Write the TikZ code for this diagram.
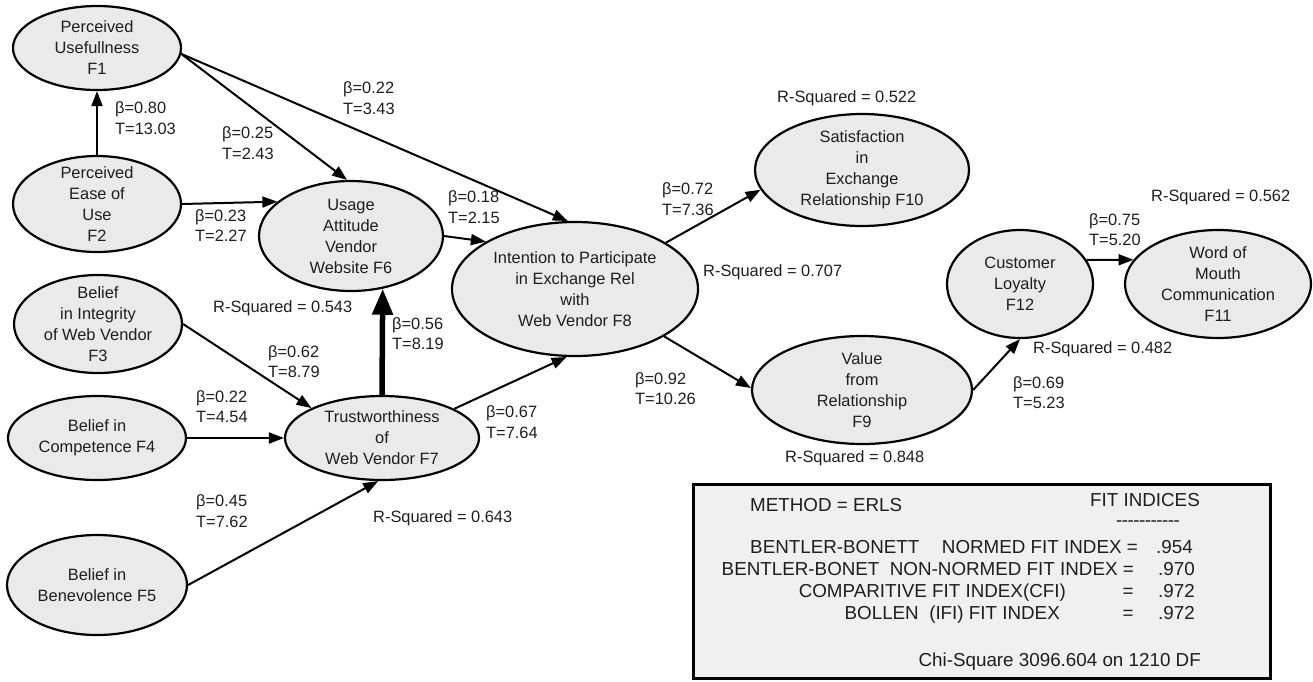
\documentclass[tikz,border=0pt]{standalone}
\usepackage{fontspec}
\setmainfont{Liberation Sans}
\usetikzlibrary{shapes.geometric,arrows.meta}
\definecolor{ellfill}{HTML}{EAEAEA}
\definecolor{boxfill}{HTML}{F0F0F0}
\definecolor{ink}{HTML}{1E1E1E}
\begin{document}
\begin{tikzpicture}[x=1pt,y=1pt,
  lat/.style={ellipse, draw=black, line width=2.2pt, fill=ellfill, align=center,
    inner xsep=-10pt, inner ysep=-30pt, font=\fontsize{16.4}{21}\selectfont, text=ink},
  conn/.style={line width=2pt, -{Triangle[length=15pt,width=11pt]}},
  thickconn/.style={line width=5.5pt, -{Triangle[length=26pt,width=20pt]}},
  lbl/.style={anchor=west, align=left, inner sep=0pt, font=\fontsize{16.4}{20.5}\selectfont, text=ink},
  rsq/.style={anchor=west, inner sep=0pt, font=\fontsize{16.4}{20.5}\selectfont, text=ink},
  boxtxt/.style={inner sep=0pt, font=\fontsize{18.8}{22}\selectfont, text=ink}
]
\useasboundingbox (0,0) rectangle (1313,-681);

% latent variables
\node[lat, minimum width=168, minimum height=84]  (F1)  at (97,-48)   {Perceived\\Usefullness\\F1};
\node[lat, minimum width=168, minimum height=96]  (F2)  at (97,-204)  {Perceived\\Ease of\\Use\\F2};
\node[lat, minimum width=168, minimum height=98]  (F3)  at (98,-324)  {Belief\\in Integrity\\of Web Vendor\\F3};
\node[lat, minimum width=178, minimum height=84]  (F4)  at (97,-438)  {Belief in\\Competence F4};
\node[lat, minimum width=180, minimum height=100] (F5)  at (97,-585)  {Belief in\\Benevolence F5};
\node[lat, minimum width=184, minimum height=110] (F6)  at (351,-236) {Usage\\Attitude\\Vendor\\Website F6};
\node[lat, minimum width=194, minimum height=84]  (F7)  at (382,-438) {Trustworthiness\\of\\Web Vendor F7};
\node[lat, minimum width=246, minimum height=134] (F8)  at (575,-289) {Intention to Participate\\in Exchange Rel\\with\\Web Vendor F8};
\node[lat, minimum width=214, minimum height=112] (F10) at (862,-170) {Satisfaction\\in\\Exchange\\Relationship F10};
\node[lat, minimum width=220, minimum height=108] (F9)  at (862,-390) {Value\\from\\Relationship\\F9};
\node[lat, minimum width=146, minimum height=108] (F12) at (1020,-284) {Customer\\Loyalty\\F12};
\node[lat, minimum width=186, minimum height=108] (F11) at (1218,-284) {Word of\\Mouth\\Communication\\F11};

% paths
\draw[conn] (F2.north) -- (F1.south);
\draw[conn] (F1.-4) -- (F6.94);
\draw[conn] (F1.-4) -- (F8.96);
\draw[conn] (F2.east) -- (F6.155);
\draw[conn] (F6.east) -- (F8.152);
\draw[thickconn] (F7.north) -- (F6.-59);
\draw[conn] (F3.east) -- (F7.157);
\draw[conn] (F4.east) -- (F7.west);
\draw[conn] (F5.east) -- (F7.-95);
\draw[conn] (F7.22) -- (F8.-97);
\draw[conn] (F8.27) -- (F10.191);
\draw[conn] (F8.-28) -- (F9.179);
\draw[conn] (F9.east) -- (F12.south);
\draw[conn] (F12.20) -- (F11.164);

% path coefficients
\node[lbl] (b80) at (115,-118)  {β=0.80\\T=13.03};
\node[lbl] (b25) at (222,-143)  {β=0.25\\T=2.43};
\node[lbl] (b22a) at (343,-98)  {β=0.22\\T=3.43};
\node[lbl] (b23) at (195,-225.5) {β=0.23\\T=2.27};
\node[lbl] (b18) at (448,-207)  {β=0.18\\T=2.15};
\node[lbl] (b56) at (392,-333.5) {β=0.56\\T=8.19};
\node[lbl] (b62) at (268,-361.5) {β=0.62\\T=8.79};
\node[lbl] (b22b) at (196,-406.5) {β=0.22\\T=4.54};
\node[lbl] (b45) at (196,-511)  {β=0.45\\T=7.62};
\node[lbl] (b67) at (486,-422)  {β=0.67\\T=7.64};
\node[lbl] (b72) at (662,-199)  {β=0.72\\T=7.36};
\node[lbl] (b92) at (635,-388.5) {β=0.92\\T=10.26};
\node[lbl] (b75) at (1089,-229.5) {β=0.75\\T=5.20};
\node[lbl] (b69) at (1013,-392.5) {β=0.69\\T=5.23};

% R-squared
\node[rsq] (r543) at (213,-308) {R-Squared = 0.543};
\node[rsq] (r643) at (373,-518) {R-Squared = 0.643};
\node[rsq] (r707) at (703,-272) {R-Squared = 0.707};
\node[rsq] (r522) at (777,-98)  {R-Squared = 0.522};
\node[rsq] (r848) at (785,-458) {R-Squared = 0.848};
\node[rsq] (r562) at (1151,-197) {R-Squared = 0.562};
\node[rsq] (r482) at (1033,-349) {R-Squared = 0.482};

% fit indices box
\node[draw=black, line width=3pt, fill=boxfill, minimum width=577, minimum height=194, inner sep=0pt] (fitbox) at (981.5,-581) {};
\node[boxtxt, anchor=base west] (meth) at (750,-511) {METHOD = ERLS};
\node[boxtxt, anchor=base east] (fith) at (1200,-506) {FIT INDICES};
\node[boxtxt, anchor=base] (fitdash) at (1148,-526) {-\kern-0.5pt-\kern-0.5pt-\kern-0.5pt-\kern-0.5pt-\kern-0.5pt-\kern-0.5pt-\kern-0.5pt-\kern-0.5pt-\kern-0.5pt-\kern-0.5pt-};
\node[boxtxt, anchor=base west] (l1a) at (750,-553) {BENTLER-BONETT};
\node[boxtxt, anchor=base east] (l1b) at (1138,-553) {NORMED FIT INDEX =};
\node[boxtxt, anchor=base west] (l1c) at (1156,-553) {.954};
\node[boxtxt, anchor=base east] (l2a) at (1134,-575) {BENTLER-BONET\ \ NON-NORMED FIT INDEX =};
\node[boxtxt, anchor=base west] (l2c) at (1158,-575) {.970};
\node[boxtxt, anchor=base east] (l3a) at (1066,-597) {COMPARITIVE FIT INDEX(CFI)};
\node[boxtxt, anchor=base] (l3b) at (1128,-597) {=};
\node[boxtxt, anchor=base west] (l3c) at (1158,-597) {.972};
\node[boxtxt, anchor=base east] (l4a) at (1060,-619) {BOLLEN\ \ (IFI) FIT INDEX};
\node[boxtxt, anchor=base] (l4b) at (1128,-619) {=};
\node[boxtxt, anchor=base west] (l4c) at (1158,-619) {.972};
\node[boxtxt, anchor=base east] (chi) at (1201,-666) {Chi-Square 3096.604 on 1210 DF};
\end{tikzpicture}
\end{document}
